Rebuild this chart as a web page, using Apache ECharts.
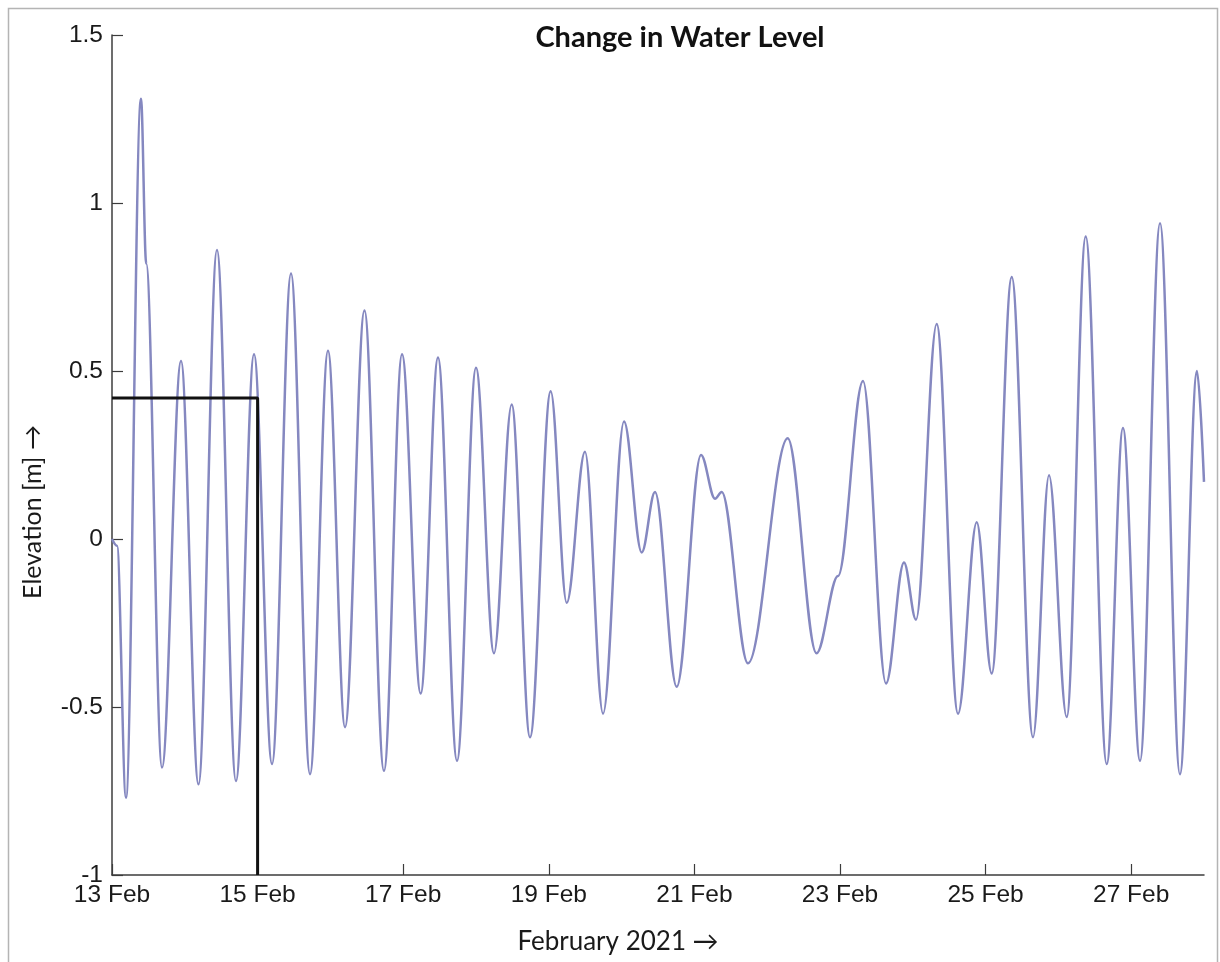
<!DOCTYPE html>
<html>
<head>
<meta charset="utf-8">
<title>Change in Water Level</title>
<script src="https://cdn.jsdelivr.net/npm/echarts@6/dist/echarts.min.js"></script>
<style>
html, body { margin: 0; padding: 0; background: #fff; }
#chart { width: 1220px; height: 962px; }
</style>
</head>
<body>
<div id="chart"></div>
<script>
// turning points of the water level, days counted from 13 Feb 00:00
var tideDay = [0, 0.069, 0.192, 0.398, 0.47, 0.687, 0.948, 1.188, 1.442, 1.703, 1.951,
	2.198, 2.459, 2.720, 2.967, 3.201, 3.468, 3.736, 3.984, 4.240, 4.478,
	4.739, 5.0, 5.247, 5.490, 5.742, 6.026, 6.246, 6.497, 6.745, 7.033,
	7.276, 7.459, 7.757, 8.091, 8.283, 8.375, 8.736, 9.282, 9.677, 9.973,
	10.316, 10.632, 10.879, 11.044, 11.328, 11.621, 11.878, 12.084, 12.359, 12.651,
	12.871, 13.114, 13.375, 13.664, 13.887, 14.121, 14.396, 14.670, 14.904, 15.0];
var tideLevel = [0, -0.02, -0.77, 1.31, 0.82, -0.68, 0.53, -0.73, 0.86, -0.72, 0.55,
	-0.67, 0.79, -0.70, 0.56, -0.56, 0.68, -0.69, 0.55, -0.46, 0.54,
	-0.66, 0.51, -0.34, 0.40, -0.59, 0.44, -0.19, 0.26, -0.52, 0.35,
	-0.04, 0.14, -0.44, 0.25, 0.12, 0.14, -0.37, 0.30, -0.34, -0.11,
	0.47, -0.43, -0.07, -0.24, 0.64, -0.52, 0.05, -0.40, 0.78, -0.59,
	0.19, -0.53, 0.90, -0.67, 0.33, -0.66, 0.94, -0.70, 0.50, 0.17];

// the black guide line
var markerDay = [0, 2, 2];
var markerLevel = [0.42, 0.42, -1];

var tickDay = [0, 2, 4, 6, 8, 10, 12, 14];
var tickLabel = ['13 Feb', '15 Feb', '17 Feb', '19 Feb', '21 Feb', '23 Feb', '25 Feb', '27 Feb'];

function zip(a, b) {
	var out = [];
	for (var i = 0; i < a.length; i++) {
		out.push([a[i], b[i]]);
	}
	return out;
}

var myChart = echarts.init(document.getElementById('chart'));
var axisColor = '#3c3c3c';
var labelFont = '"Liberation Sans", Arial, sans-serif';
var nameFont = 'Lato, "Open Sans", sans-serif';

option = {
	backgroundColor: '#fff',
	animation: false,
	grid: {
		left: 112,
		right: 16,
		top: 35,
		bottom: 87
	},
	xAxis: {
		type: 'value',
		min: 0,
		max: 15,
		interval: 2,
		axisLine: { onZero: false, lineStyle: { color: axisColor, width: 1.5 } },
		axisTick: {
			inside: true,
			length: 11,
			customValues: tickDay,
			lineStyle: { color: axisColor, width: 1.2 }
		},
		axisLabel: {
			customValues: tickDay,
			margin: 8,
			color: '#1a1a1a',
			fontSize: 24.5,
			fontFamily: labelFont,
			formatter: function (v) {
				var k = tickDay.indexOf(v);
				return k >= 0 ? tickLabel[k] : '';
			}
		},
		splitLine: { show: false }
	},
	yAxis: {
		type: 'value',
		min: -1,
		max: 1.5,
		interval: 0.5,
		axisLine: { show: true, onZero: false, lineStyle: { color: axisColor, width: 1.5 } },
		axisTick: {
			show: true,
			inside: true,
			length: 11,
			lineStyle: { color: axisColor, width: 1.2 }
		},
		axisLabel: {
			margin: 9,
			color: '#1a1a1a',
			fontSize: 24.5,
			fontFamily: labelFont
		},
		splitLine: { show: false }
	},
	graphic: [
		{
			type: 'rect',
			shape: { x: 8.5, y: 8.5, width: 1209, height: 1000 },
			style: { fill: 'none', stroke: '#b4b4b4', lineWidth: 1.5 },
			silent: true
		},
		{
			type: 'text',
			x: 680,
			y: 38,
			style: {
				text: 'Change in Water Level',
				font: 'bold 29px ' + nameFont,
				fill: '#111',
				textAlign: 'center',
				textVerticalAlign: 'middle'
			}
		},
		{
			type: 'text',
			x: 618,
			y: 942,
			style: {
				text: 'February 2021 \u2192',
				font: '26px ' + nameFont,
				fill: '#1a1a1a',
				textAlign: 'center',
				textVerticalAlign: 'middle'
			}
		},
		{
			type: 'text',
			x: 33,
			y: 512,
			rotation: Math.PI / 2,
			style: {
				text: 'Elevation [m] \u2192',
				font: '25px ' + nameFont,
				fill: '#1a1a1a',
				textAlign: 'center',
				textVerticalAlign: 'middle'
			}
		}
	],
	series: [
		{
			name: 'Water level',
			type: 'line',
			data: zip(tideDay, tideLevel),
			showSymbol: false,
			smooth: 0.35,
			smoothMonotone: 'x',
			lineStyle: { color: '#8588c0', width: 2.5 },
			z: 2
		},
		{
			name: 'Marker',
			type: 'line',
			data: zip(markerDay, markerLevel),
			showSymbol: false,
			lineStyle: { color: '#111', width: 3 },
			z: 3
		}
	]
};
myChart.setOption(option);
</script>
</body>
</html>
